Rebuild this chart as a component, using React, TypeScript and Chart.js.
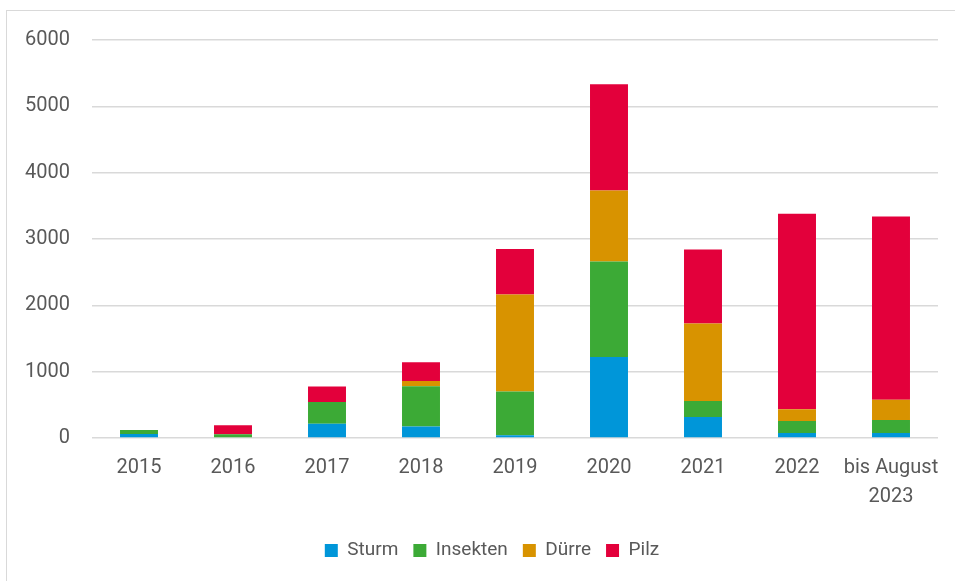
import React, { useEffect, useRef } from "react";
import { Chart, registerables } from "chart.js";

Chart.register(...registerables);

const categories: (string | string[])[] = ["2015", "2016", "2017", "2018", "2019", "2020", "2021", "2022", ["bis August", "2023"]];
const sturm = [61, 0, 213, 173, 40, 1222, 317, 75, 75];
const insekten = [61, 55, 330, 609, 660, 1439, 241, 182, 197];
const duerre = [0, 0, 0, 76, 1464, 1071, 1167, 176, 306];
const pilz = [0, 137, 234, 284, 684, 1600, 1117, 2947, 2762];
const seriesNames = ["Sturm", "Insekten", "Dürre", "Pilz"];
const seriesColors = ["#0096D9", "#3CAA36", "#D89300", "#E3003B"];

const FONT = "Roboto";
const TEXT = "#595959";

const legendShift = {
  id: "legendShift",
  afterLayout(chart: any) {
    if (chart.legend) chart.legend.left += 46;
  },
};

export default function App() {
  const ref = useRef<HTMLCanvasElement | null>(null);
  useEffect(() => {
    if (!ref.current) return;
    const values = [sturm, insekten, duerre, pilz];
    const chart = new Chart(ref.current, {
      type: "bar",
      data: {
        labels: categories,
        datasets: values.map((v, i) => ({
          label: seriesNames[i],
          data: v,
          backgroundColor: seriesColors[i],
          borderWidth: 0,
          barPercentage: 0.404,
          categoryPercentage: 1,
        })),
      },
      plugins: [legendShift],
      options: {
        responsive: false,
        animation: false,
        layout: { padding: { top: 40, right: 17, bottom: 11, left: 0 } },
        plugins: {
          tooltip: { enabled: false },
          legend: {
            position: "bottom",
            labels: {
              boxWidth: 13,
              boxHeight: 13,
              padding: 15,
              color: TEXT,
              font: { family: FONT, size: 19 },
            },
          },
        },
        scales: {
          x: {
            stacked: true,
            grid: { display: false, drawTicks: false },
            border: { display: false },
            ticks: {
              color: TEXT,
              font: { family: FONT, size: 20, lineHeight: 1.45 },
              padding: 15,
              maxRotation: 0,
              autoSkip: false,
            },
            afterFit: (s: any) => {
              s.height = 88;
            },
          },
          y: {
            stacked: true,
            min: 0,
            max: 6000,
            grid: { color: "#d9d9d9", lineWidth: 1.5, drawTicks: false },
            border: { display: false },
            ticks: {
              stepSize: 1000,
              color: TEXT,
              font: { family: FONT, size: 20 },
              padding: 22,
              callback: (v: any) => String(v),
            },
            afterFit: (s: any) => {
              s.width = 92;
            },
          },
        },
      },
    });
    return () => chart.destroy();
  }, []);
  return (
    <div style={{ position: "fixed", left: 0, top: 0, width: 955, height: 581, overflow: "hidden", background: "#fff" }}>
      <div
        style={{
          position: "absolute",
          left: 6,
          top: 10,
          width: 1200,
          height: 900,
          border: "1.5px solid #d9d9d9",
        }}
      />
      <canvas ref={ref} width={955} height={581} style={{ position: "absolute", left: 0, top: 0 }} />
    </div>
  );
}
